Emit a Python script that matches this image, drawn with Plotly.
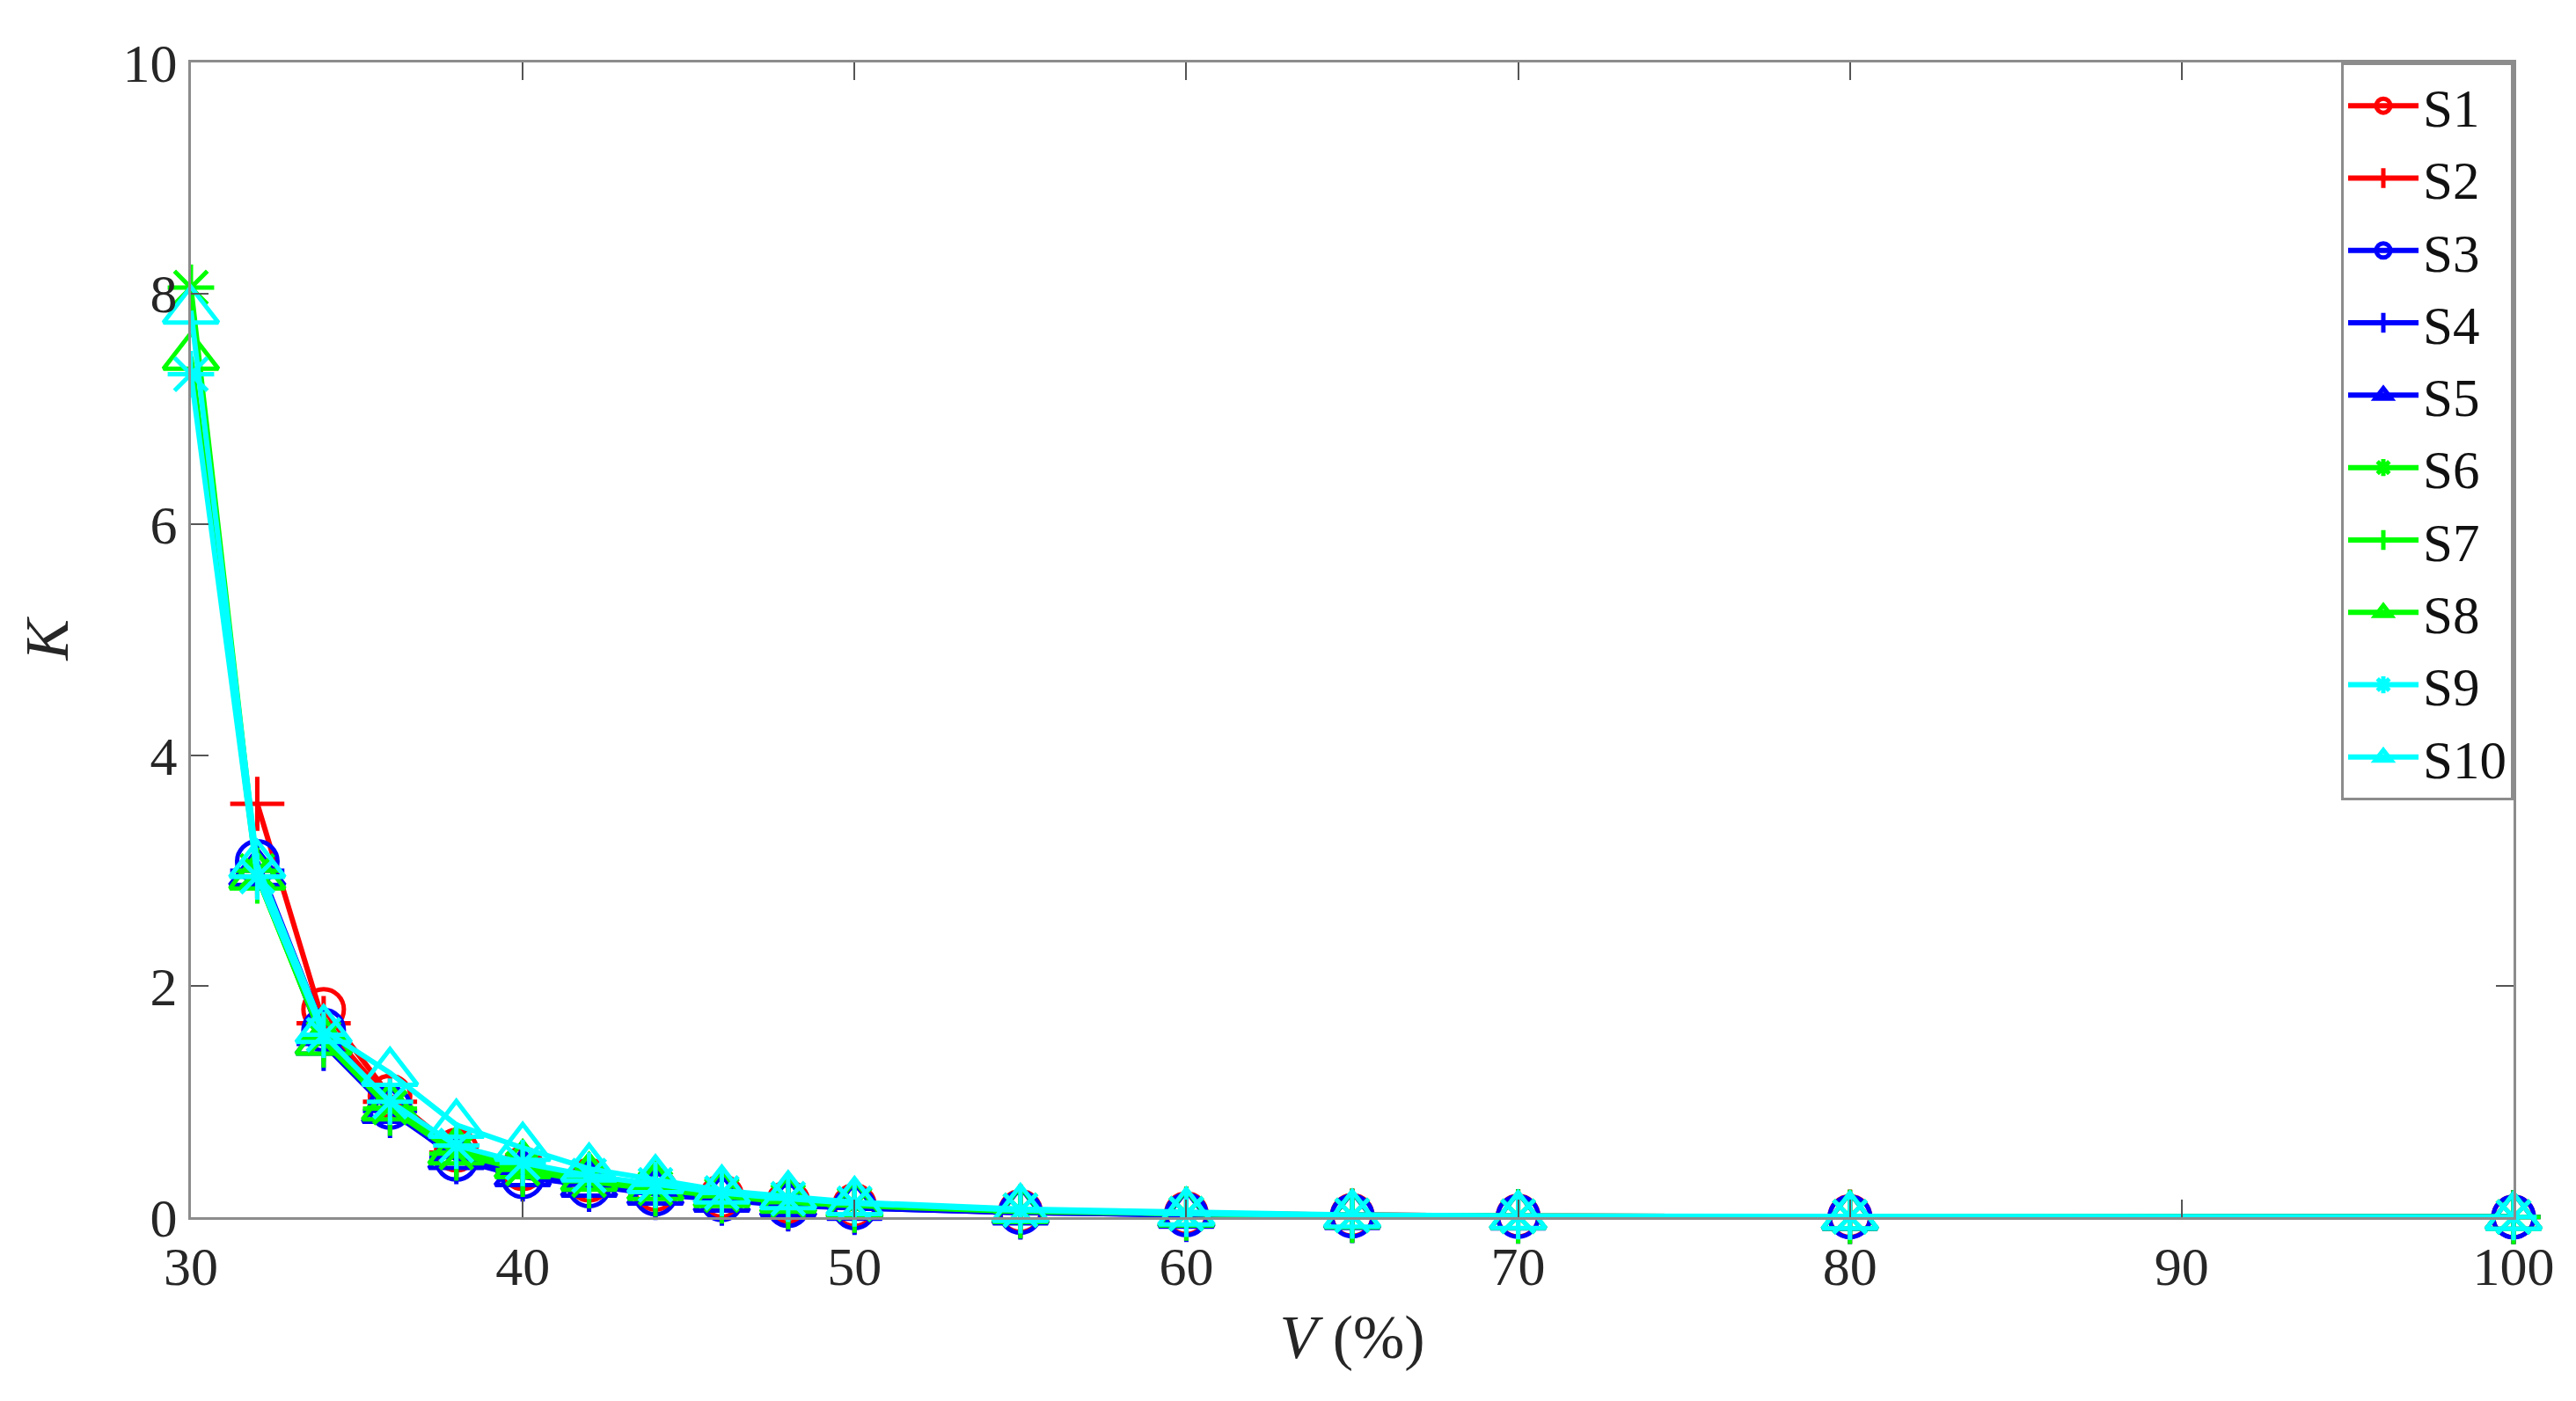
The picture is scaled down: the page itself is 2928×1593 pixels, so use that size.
import plotly.graph_objects as go

# V (%) sample points
v_pct = [30, 32, 34, 36, 38, 40, 42, 44, 46, 48, 50, 55, 60, 65, 70, 80, 100]

# K values per series (None = no point at that V)
s1 = [None, None, 1.80, 1.05, 0.58, 0.42, 0.32, 0.24, 0.18, 0.13, 0.10, 0.05, 0.03, 0.015, 0.010, 0.005, 0.002]
s2 = [None, 3.58, 1.68, 1.00, 0.56, 0.40, 0.30, 0.23, 0.17, 0.12, 0.09, 0.05, 0.03, 0.015, 0.010, 0.005, 0.002]
s3 = [None, 3.08, 1.62, 0.95, 0.50, 0.35, 0.27, 0.20, 0.15, 0.10, 0.08, 0.04, 0.02, 0.010, 0.005, 0.002, 0.001]
s4 = [None, 3.00, 1.50, 0.92, 0.52, 0.37, 0.28, 0.21, 0.16, 0.11, 0.08, 0.04, 0.02, 0.010, 0.005, 0.002, 0.001]
s5 = [None, 2.98, 1.52, 0.93, 0.53, 0.38, 0.29, 0.22, 0.16, 0.12, 0.09, 0.05, 0.02, 0.010, 0.005, 0.002, 0.001]
s6 = [8.05, 3.00, 1.55, 0.95, 0.56, 0.42, 0.32, 0.25, 0.19, 0.14, 0.11, 0.06, 0.03, 0.015, 0.008, 0.004, 0.002]
s7 = [None, 2.95, 1.53, 0.94, 0.55, 0.41, 0.31, 0.24, 0.18, 0.13, 0.10, 0.05, 0.03, 0.012, 0.007, 0.003, 0.001]
s8 = [7.45, 2.95, 1.52, 0.95, 0.57, 0.45, 0.34, 0.26, 0.20, 0.15, 0.11, 0.06, 0.03, 0.015, 0.008, 0.004, 0.002]
s9 = [7.30, 2.95, 1.58, 1.00, 0.62, 0.47, 0.36, 0.28, 0.21, 0.16, 0.12, 0.06, 0.03, 0.015, 0.008, 0.004, 0.002]
s10 = [7.85, 3.05, 1.62, 1.25, 0.80, 0.60, 0.42, 0.32, 0.23, 0.18, 0.13, 0.07, 0.04, 0.020, 0.010, 0.005, 0.002]

names = ["S1", "S2", "S3", "S4", "S5", "S6", "S7", "S8", "S9", "S10"]
series = [s1, s2, s3, s4, s5, s6, s7, s8, s9, s10]
colors = ["#ff0000", "#ff0000", "#0000ff", "#0000ff", "#0000ff",
          "#00ff00", "#00ff00", "#00ff00", "#00ffff", "#00ffff"]
symbols = ["circle-open", "cross-thin-open", "circle-open", "cross-thin-open", "triangle-up-open",
           "asterisk-open", "cross-thin-open", "triangle-up-open", "asterisk-open", "triangle-up-open"]
sizes = {"circle-open": 46, "cross-thin-open": 44, "triangle-up-open": 54, "asterisk-open": 44}

FONT = "Liberation Serif, Times New Roman, serif"
AXIS_GRAY = "#8c8c8c"

fig = go.Figure()
for name, ys, c, sym in zip(names, series, colors, symbols):
    fig.add_trace(
        go.Scatter(
            x=v_pct,
            y=ys,
            name=name,
            mode="lines+markers",
            cliponaxis=False,
            line=dict(color=c, width=6),
            marker=dict(symbol=sym, size=sizes[sym], color=c, line=dict(color=c, width=5)),
        )
    )

axis_common = dict(
    showgrid=False,
    zeroline=False,
    showline=True,
    linecolor=AXIS_GRAY,
    linewidth=3,
    mirror="ticks",
    ticks="inside",
    ticklen=20,
    tickwidth=2,
    tickcolor="#555555",
    tickfont=dict(family=FONT, size=62, color="#262626"),
)

fig.update_xaxes(
    range=[30, 100],
    tickvals=[30, 40, 50, 60, 70, 80, 90, 100],
    title=dict(text="<i>V</i> (%)", font=dict(family=FONT, size=70, color="#262626"), standoff=22),
    **axis_common,
)
fig.update_yaxes(
    range=[0, 10],
    tickvals=[0, 2, 4, 6, 8, 10],
    title=dict(text="<i>K</i>", font=dict(family=FONT, size=70, color="#262626"), standoff=40),
    **axis_common,
)

fig.update_layout(
    width=2928,
    height=1593,
    margin=dict(l=209, r=79, t=63, b=217),
    plot_bgcolor="white",
    paper_bgcolor="white",
    showlegend=True,
    legend=dict(
        x=1,
        y=1,
        xanchor="right",
        yanchor="top",
        bgcolor="white",
        bordercolor=AXIS_GRAY,
        borderwidth=3,
        font=dict(family=FONT, size=61, color="#111111"),
        itemwidth=80,
        tracegroupgap=0,
    ),
)

fig.write_html("out.html")
